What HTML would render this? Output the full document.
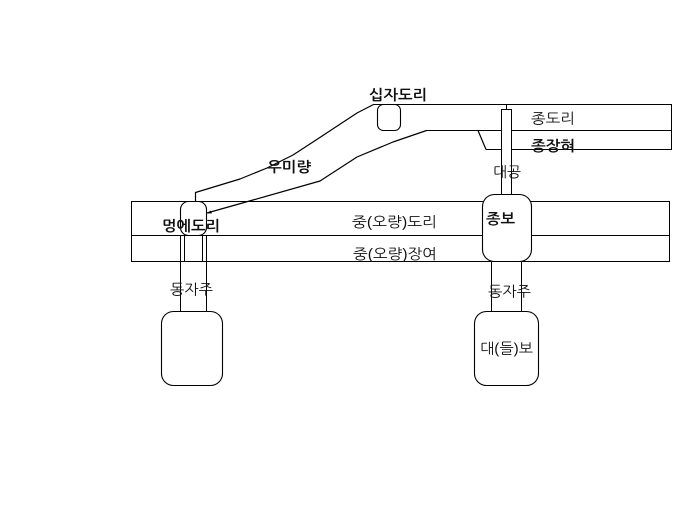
<!DOCTYPE html>
<html lang="ko">
<head>
<meta charset="utf-8">
<style>
html,body{margin:0;padding:0;background:#fff;width:685px;height:516px;overflow:hidden}
svg{display:block}
text{font-family:"Liberation Sans","NanumGothic","Noto Sans CJK KR",sans-serif;font-size:14.5px;fill:#111;dominant-baseline:central}
.s{fill:none;stroke:#000;stroke-width:1;shape-rendering:crispEdges}
.w{fill:#fff;stroke:#000;stroke-width:1.1}
.c{fill:none;stroke:#000;stroke-width:1.2;stroke-linejoin:round}
.r{fill:none;stroke:#000;stroke-width:1.1}
.b{font-weight:bold}
</style>
</head>
<body>
<svg width="685" height="516" viewBox="0 0 685 516" xmlns="http://www.w3.org/2000/svg">
<!-- top beam -->
<path class="s" d="M373.5 104.5H671.5V149.5H486M426.5 130.5H671.5"/>
<path class="c" d="M486 149.5L478 130.5"/>
<path class="s" d="M506.5 104.5V109.5"/>
<rect class="w" x="501.5" y="109.5" width="10" height="85" shape-rendering="crispEdges"/>
<rect class="w" x="377.5" y="104.5" width="23" height="26" rx="6"/>
<!-- curves -->
<path class="c" d="M195.5 201V192.5L240 179L267 168L293 155L313 142L357 113L373.5 104.5"/>
<path class="c" d="M207 213L253 200L320 181L357 157L393 142L426.5 130.5"/>
<path d="M206.5 213.2L211 210.5L211.8 213.5Z" fill="#000"/>
<!-- main beam -->
<path class="s" d="M131.5 201.5H669.5V261.5H131.5ZM131.5 235.5H669.5"/>
<!-- posts left -->
<path class="s" d="M180.5 235V311.5M206.5 235V311.5M184.5 235.5V261.5M202.5 235.5V261.5"/>
<rect class="r" x="180.5" y="201.5" width="26" height="34" rx="8"/>
<rect class="w" x="161.5" y="311.5" width="61" height="74" rx="12"/>
<!-- posts right -->
<path class="s" d="M491.5 261.5V311.5M521.5 261.5V311.5"/>
<rect class="w" x="482.5" y="194.5" width="49" height="67" rx="12"/>
<rect class="w" x="474.5" y="311.5" width="64" height="74" rx="12"/>
<!-- labels -->
<text class="b" x="369" y="96" textLength="58" lengthAdjust="spacingAndGlyphs">십자도리</text>
<text x="531" y="119.5" textLength="44" lengthAdjust="spacingAndGlyphs">종도리</text>
<text class="b" x="531" y="147" textLength="44" lengthAdjust="spacingAndGlyphs">종장혀</text>
<text x="493" y="173" textLength="28" lengthAdjust="spacingAndGlyphs">대공</text>
<text class="b" x="486" y="220" textLength="29" lengthAdjust="spacingAndGlyphs">종보</text>
<text x="352" y="223" textLength="85" lengthAdjust="spacingAndGlyphs">중(오량)도리</text>
<text x="353" y="255" textLength="84" lengthAdjust="spacingAndGlyphs">중(오량)장여</text>
<text class="b" x="162" y="227" textLength="58" lengthAdjust="spacingAndGlyphs">멍에도리</text>
<text class="b" x="267" y="168" textLength="44" lengthAdjust="spacingAndGlyphs">우미량</text>
<text x="170" y="290.5" textLength="43" lengthAdjust="spacingAndGlyphs">동자주</text>
<text x="488" y="292.5" textLength="43" lengthAdjust="spacingAndGlyphs">동자주</text>
<text x="480" y="349.5" textLength="53" lengthAdjust="spacingAndGlyphs">대(들)보</text>
</svg>
</body>
</html>
